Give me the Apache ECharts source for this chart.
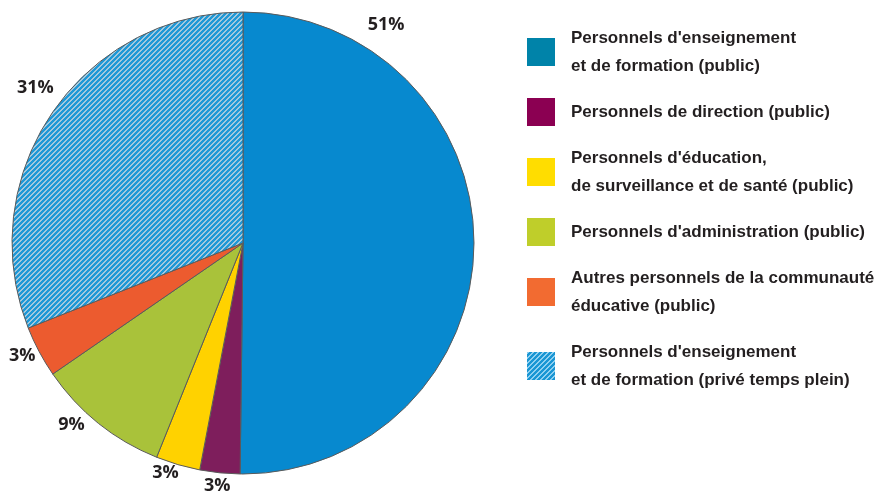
<!DOCTYPE html>
<html><head><meta charset="utf-8">
<script src="https://cdn.jsdelivr.net/npm/echarts@6/dist/echarts.min.js"></script>
<style>html,body{margin:0;padding:0;background:#fff}#c{width:886px;height:491px}</style>
</head><body><div id="c"></div>
<script>
// ---- data ----
const categories = [
  "Personnels d'enseignement\net de formation (public)",
  "Personnels de direction (public)",
  "Personnels d'éducation,\nde surveillance et de santé (public)",
  "Personnels d'administration (public)",
  "Autres personnels de la communauté\néducative (public)",
  "Personnels d'enseignement\net de formation (privé temps plein)"
];
const values = [50.2, 2.8, 3.1, 9.3, 3.6, 31.0];
const valueLabels = ['51%', '3%', '3%', '9%', '3%', '31%'];

// ---- style ----
const pieColors = ['#0789CF', '#7E1E5C', '#FFD200', '#A9C23A', '#EC5B2F', null];
const legendColors = ['#0083A9', '#8B0052', '#FFDD00', '#BFCE2A', '#F26B31', null];
// label placement: angular shift (deg) from slice middle and distance from centre
const labelAngleShift = [-57.1, 0.3, 2.2, 4.6, 1.0, 2.5];
const labelDistance = [261, 244, 243, 250, 248, 259];

function makeHatch(dark, light) {
  const c = document.createElement('canvas');
  c.width = 5; c.height = 5;
  const ctx = c.getContext('2d');
  const img = ctx.createImageData(5, 5);
  const hex = s => [parseInt(s.substr(1,2),16), parseInt(s.substr(3,2),16), parseInt(s.substr(5,2),16)];
  const d = hex(dark), l = hex(light);
  for (let y = 0; y < 5; y++) for (let x = 0; x < 5; x++) {
    const col = ((x + y) % 5) < 2 ? l : d;
    const k = (y * 5 + x) * 4;
    img.data[k] = col[0]; img.data[k+1] = col[1]; img.data[k+2] = col[2]; img.data[k+3] = 255;
  }
  ctx.putImageData(img, 0, 0);
  return { image: c, repeat: 'repeat' };
}
const hatchPie = makeHatch('#1F98D6', '#A3C9DE');
const hatchLegend = makeHatch('#1A96D4', '#8FD0F0');

const CX = 243, CY = 243, R = 231;
const total = values.reduce((a, b) => a + b, 0);

const chart = echarts.init(document.getElementById('c'), null, { renderer: 'canvas' });
chart.setOption({
  animation: false,
  legend: {
    orient: 'vertical',
    left: 527,
    top: 24,
    padding: 0,
    itemWidth: 28,
    itemHeight: 28,
    itemGap: 18,
    icon: 'rect',
    selectedMode: false,
    textStyle: {
      fontFamily: '"Liberation Sans", Arial, sans-serif',
      fontWeight: 'bold',
      fontSize: 17,
      lineHeight: 28,
      color: '#231F20',
      padding: [0, 0, 0, 11]
    },
    data: categories.map((n, i) => ({
      name: n,
      itemStyle: { color: legendColors[i] || hatchLegend, borderWidth: 0 }
    }))
  },
  series: [{
    type: 'pie',
    center: [CX, CY],
    radius: R,
    startAngle: 90,
    clockwise: true,
    silent: true,
    emphasis: { disabled: true },
    itemStyle: { borderColor: '#5a5a5a', borderWidth: 1 },
    label: {
      show: true,
      position: 'inside',
      fontFamily: '"Open Sans", sans-serif',
      fontWeight: 'bold',
      fontSize: 18,
      color: '#231F20',
      formatter: p => valueLabels[p.dataIndex]
    },
    labelLine: { show: false },
    labelLayout: function (p) {
      const i = p.dataIndex;
      let cum = 0;
      for (let k = 0; k < i; k++) cum += values[k];
      const ang = (cum + values[i] / 2) / total * 360 + labelAngleShift[i];
      const d = labelDistance[i];
      const rad = ang * Math.PI / 180;
      return {
        x: CX + Math.sin(rad) * d,
        y: CY - Math.cos(rad) * d,
        align: 'center',
        verticalAlign: 'middle'
      };
    },
    data: categories.map((n, i) => ({
      name: n,
      value: values[i],
      itemStyle: { color: pieColors[i] || hatchPie }
    }))
  }]
});
</script>
</body></html>
